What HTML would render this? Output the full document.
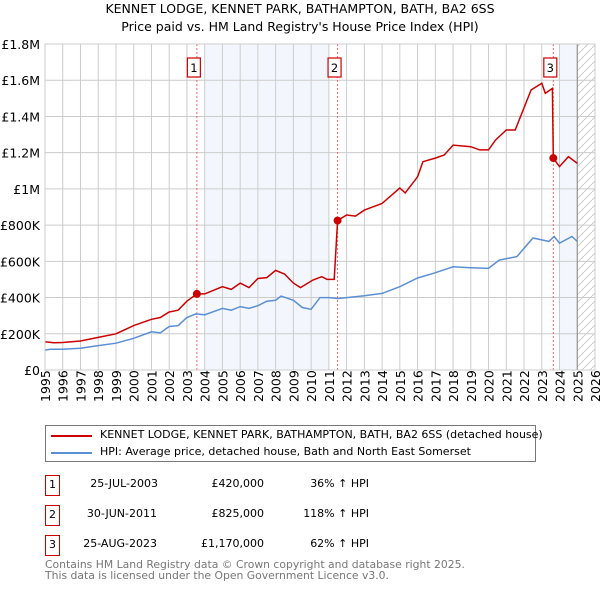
<!DOCTYPE html>
<html><head><meta charset="utf-8"><style>
body{margin:0;background:#fff;font-family:"DejaVu Sans","Liberation Sans",sans-serif;}
#wrap{position:relative;width:600px;height:590px;overflow:hidden}
.t{position:absolute;font-size:12.5px;color:#000;white-space:nowrap}
.box{position:absolute;border:1.5px solid #c00;width:15px;height:21px;font-size:11px;text-align:center;line-height:18px;box-sizing:border-box}
.r{position:absolute;white-space:nowrap;font-size:11px;text-align:right}
</style></head><body><div id="wrap">
<div class="t" style="left:0;width:600px;text-align:center;top:1px;font-size:12.5px">KENNET LODGE, KENNET PARK, BATHAMPTON, BATH, BA2 6SS</div>
<div class="t" style="left:0;width:600px;text-align:center;top:19px;font-size:12.5px">Price paid vs. HM Land Registry's House Price Index (HPI)</div>
<svg id="chart" width="600" height="420" style="position:absolute;left:0;top:0"></svg>
<div style="position:absolute;left:45px;top:425px;width:491px;height:37px;border:1px solid #777;box-sizing:border-box">
<div style="position:absolute;left:4px;top:2px;width:480px;height:16px"><div style="position:absolute;left:1px;top:7px;width:41px;height:2px;background:#c00"></div><div class="t" style="left:50px;top:0;font-size:11px">KENNET LODGE, KENNET PARK, BATHAMPTON, BATH, BA2 6SS (detached house)</div></div>
<div style="position:absolute;left:4px;top:19px;width:480px;height:16px"><div style="position:absolute;left:1px;top:7px;width:41px;height:2px;background:#5b8fd4"></div><div class="t" style="left:50px;top:0;font-size:11px">HPI: Average price, detached house, Bath and North East Somerset</div></div>
</div>
<div><div class="box" style="left:45px;top:475px">1</div><div class="r" style="left:60px;width:98px;top:477px">25-JUL-2003</div><div class="r" style="left:170px;width:94px;top:477px">£420,000</div><div class="r" style="left:280px;width:89px;top:477px">36% ↑ HPI</div></div>
<div><div class="box" style="left:45px;top:505px">2</div><div class="r" style="left:60px;width:97px;top:507px">30-JUN-2011</div><div class="r" style="left:170px;width:94px;top:507px">£825,000</div><div class="r" style="left:280px;width:89px;top:507px">118% ↑ HPI</div></div>
<div><div class="box" style="left:45px;top:535px">3</div><div class="r" style="left:60px;width:97px;top:537px">25-AUG-2023</div><div class="r" style="left:170px;width:94px;top:537px">£1,170,000</div><div class="r" style="left:280px;width:89px;top:537px">62% ↑ HPI</div></div>
<div class="t" style="left:45px;top:560px;font-size:10.8px;color:#777;line-height:10.5px">Contains HM Land Registry data © Crown copyright and database right 2025.<br>This data is licensed under the Open Government Licence v3.0.</div>
</div>
<script>
const yTicks=[0,200000,400000,600000,800000,1000000,1200000,1400000,1600000,1800000];
const yTickLabels=["£0","£200K","£400K","£600K","£800K","£1M","£1.2M","£1.4M","£1.6M","£1.8M"];
const xYears=[1995,1996,1997,1998,1999,2000,2001,2002,2003,2004,2005,2006,2007,2008,2009,2010,2011,2012,2013,2014,2015,2016,2017,2018,2019,2020,2021,2022,2023,2024,2025,2026];
const hpiDates=[1995,1995.3,1996,1997,1998,1999,2000,2001,2001.5,2002,2002.5,2003,2003.5,2004,2005,2005.5,2006,2006.5,2007,2007.5,2008,2008.3,2009,2009.5,2010,2010.5,2011,2011.5,2012,2013,2014,2015,2016,2016.9,2018,2019,2020,2020.6,2021.6,2022.5,2023.4,2023.7,2024,2024.7,2025];
const hpiValues=[110000,115000,115000,120000,135000,148000,175000,211000,205000,240000,245000,290000,310000,305000,340000,330000,350000,340000,355000,380000,385000,408000,385000,345000,335000,400000,400000,395000,400000,410000,423000,460000,508000,534000,570000,565000,561000,607000,626000,729000,710000,737000,700000,737000,710000];
const propDates=[1995,1995.5,1996,1997,1998,1999,2000,2001,2001.5,2002,2002.5,2003,2003.56,2004,2005,2005.5,2006,2006.5,2007,2007.5,2008,2008.5,2009,2009.4,2010.1,2010.6,2010.9,2011.3,2011.49,2012,2012.5,2013,2014,2015,2015.3,2016,2016.3,2017,2017.5,2018,2019,2019.5,2020,2020.4,2021,2021.5,2022,2022.4,2023,2023.2,2023.6,2023.65,2024,2024.5,2025];
const propValues=[156000,150000,152000,160000,180000,200000,245000,280000,290000,320000,330000,380000,420000,420000,460000,445000,480000,455000,505000,510000,550000,530000,480000,455000,497000,515000,500000,500000,825000,856000,850000,883000,920000,1005000,978000,1067000,1150000,1170000,1187000,1242000,1233000,1215000,1215000,1270000,1325000,1325000,1447000,1546000,1583000,1528000,1555000,1170000,1123000,1178000,1141000];
const saleDates=[2003.56,2011.49,2023.65];
const saleValues=[420000,825000,1170000];
const saleLabels=["1","2","3"];
const X0=45,X1=595,Y0=370,Y1=44;
const xs=y=>X0+(y-1995)/(2026-1995)*(X1-X0);
const ys=v=>Y0-v/1800000*(Y0-Y1);
const FF='DejaVu Sans, Liberation Sans, sans-serif';
const svg=document.getElementById('chart');const NS='http://www.w3.org/2000/svg';
function mk(t,a,p){const e=document.createElementNS(NS,t);for(const k in a)e.setAttribute(k,a[k]);(p||svg).appendChild(e);return e;}
let e;
e=mk('rect',{x:xs(2004),y:Y1,width:xs(2011)-xs(2004),height:Y0-Y1,fill:'#eef3fc',opacity:0.7});


e=mk('rect',{x:xs(2024),y:Y1,width:xs(2025)-xs(2024),height:Y0-Y1,fill:'#eef3fc',opacity:0.7});


const defs=mk('defs',{});const pat=mk('pattern',{id:'h',width:8,height:8,patternUnits:'userSpaceOnUse'},defs);
mk('path',{d:'M0,8L8,0',stroke:'#bbb','stroke-width':0.7},pat);
e=mk('rect',{x:xs(2025),y:Y1,width:X1-xs(2025),height:Y0-Y1,fill:'url(#h)'});


yTicks.forEach((v,i)=>{mk('line',{x1:X0,x2:X1,y1:ys(v),y2:ys(v),stroke:'#ccc'});
e=mk('text',{x:40,y:ys(v)+5,'text-anchor':'end','font-size':12.5,'font-family':FF});e.textContent=yTickLabels[i];

});
xYears.forEach(y=>{mk('line',{x1:xs(y),x2:xs(y),y1:Y1,y2:Y0,stroke:'#ccc'});
e=mk('text',{transform:`translate(${xs(y)+5},${Y0+32}) rotate(-90)`,'font-size':12.5,'font-family':FF});e.textContent=y;

});
mk('line',{x1:xs(2025),x2:xs(2025),y1:Y1,y2:Y0,stroke:'#888'});
saleDates.forEach((d,i)=>{mk('line',{x1:xs(d),x2:xs(d),y1:Y1,y2:Y0,stroke:'#e66','stroke-dasharray':'2,2'});});
const pts=(a,b)=>a.map((d,i)=>xs(d).toFixed(1)+','+ys(b[i]).toFixed(1)).join(' ');
e=mk('polyline',{points:pts(hpiDates,hpiValues),fill:'none',stroke:'#5b8fd4','stroke-width':1.5});


e=mk('polyline',{points:pts(propDates,propValues),fill:'none',stroke:'#c00','stroke-width':1.5});


saleDates.forEach((d,i)=>{e=mk('circle',{cx:xs(d),cy:ys(saleValues[i]),r:4,fill:'#c00'});


const bx=xs(d)-9.5;mk('rect',{x:bx,y:58,width:13,height:19,fill:'#fff',stroke:'#c00','stroke-width':1.2});
const t=mk('text',{x:bx+6.5,y:72,'text-anchor':'middle','font-size':11.5,'font-family':FF});t.textContent=saleLabels[i];

});
mk('rect',{x:X0,y:Y1,width:X1-X0,height:Y0-Y1,fill:'none',stroke:'#ccc'});
</script></body></html>
